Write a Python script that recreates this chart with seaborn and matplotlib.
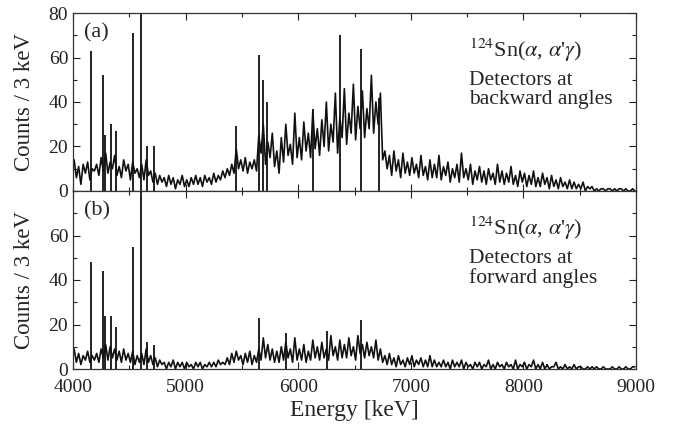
import numpy as np
import pandas as pd
import matplotlib
matplotlib.use("Agg")
import matplotlib.pyplot as plt
from matplotlib.ticker import MultipleLocator
import seaborn as sns

# continuum, counts / 3 keV read per 20 keV step, 4000-9000 keV
bin_width = 20
e_start = 4000

counts_back = [
    14, 6, 11, 3, 12, 8, 13, 5, 10, 9,
    12, 7, 15, 9, 17, 8, 13, 10, 16, 7,
    11, 6, 14, 9, 12, 5, 13, 8, 10, 6,
    12, 5, 14, 7, 9, 4, 8, 3, 7, 4,
    6, 2, 7, 3, 6, 1, 5, 3, 7, 2,
    5, 2, 6, 3, 7, 3, 6, 2, 7, 4,
    6, 3, 8, 4, 7, 5, 9, 6, 10, 7,
    12, 8, 19, 10, 14, 9, 15, 8, 13, 10,
    14, 9, 25, 17, 30, 12, 22, 15, 26, 11,
    18, 8, 24, 13, 30, 16, 21, 12, 35, 15,
    24, 14, 31, 18, 26, 15, 36, 19, 28, 16,
    32, 20, 40, 18, 30, 22, 44, 17, 33, 24,
    46, 21, 35, 26, 48, 23, 38, 28, 45, 24,
    37, 28, 52, 26, 40, 30, 44, 14, 18, 10,
    16, 7, 18, 9, 14, 6, 17, 8, 13, 7,
    15, 8, 12, 6, 16, 7, 11, 5, 14, 6,
    12, 6, 16, 5, 11, 7, 13, 4, 10, 6,
    12, 4, 17, 6, 10, 5, 12, 3, 9, 5,
    11, 4, 9, 3, 10, 5, 8, 3, 12, 4,
    9, 3, 8, 4, 11, 3, 7, 2, 9, 4,
    8, 2, 7, 3, 9, 2, 6, 2, 8, 3,
    6, 1, 7, 2, 5, 1, 6, 2, 4, 1,
    5, 1, 4, 1, 3, 1, 4, 0, 2, 1,
    2, 0, 1, 0, 1, 1, 0, 1, 1, 0,
    1, 0, 1, 1, 0, 1, 0, 0, 1, 0,
]

counts_fwd = [
    9, 3, 7, 2, 6, 4, 8, 3, 6, 4,
    7, 3, 9, 5, 11, 4, 10, 5, 9, 4,
    8, 3, 9, 4, 7, 3, 8, 2, 6, 3,
    7, 2, 9, 3, 6, 2, 5, 1, 4, 2,
    3, 0, 3, 1, 4, 0, 3, 1, 3, 0,
    3, 1, 2, 0, 3, 1, 3, 0, 2, 1,
    3, 1, 3, 1, 4, 2, 3, 2, 5, 2,
    7, 3, 8, 4, 6, 2, 7, 3, 8, 2,
    6, 3, 9, 4, 14, 5, 11, 4, 9, 3,
    8, 3, 10, 4, 12, 5, 9, 3, 14, 4,
    9, 4, 11, 3, 8, 4, 13, 5, 10, 4,
    12, 5, 9, 4, 15, 6, 10, 4, 13, 5,
    11, 5, 14, 6, 10, 4, 15, 7, 11, 5,
    12, 6, 10, 5, 13, 4, 9, 3, 6, 2,
    7, 2, 5, 1, 6, 2, 4, 1, 5, 2,
    6, 1, 4, 2, 5, 1, 4, 1, 6, 1,
    4, 1, 3, 1, 4, 1, 3, 0, 4, 1,
    3, 1, 4, 0, 3, 1, 2, 0, 3, 1,
    3, 0, 2, 1, 4, 0, 2, 0, 3, 1,
    2, 0, 3, 1, 2, 0, 4, 0, 2, 1,
    3, 0, 2, 1, 4, 0, 2, 0, 3, 0,
    2, 0, 1, 1, 3, 0, 1, 0, 2, 0,
    1, 0, 2, 0, 1, 1, 0, 0, 1, 0,
    1, 0, 1, 0, 0, 1, 0, 0, 0, 1,
    0, 0, 1, 0, 0, 1, 0, 0, 1, 1,
]

# narrow gamma lines (energy keV, counts / 3 keV)
peak_e_back = [4160, 4266, 4280, 4335, 4382, 4533, 4607, 4654, 4720,
               5445, 5654, 5684, 5720, 6130, 6371, 6555, 6717]
peak_h_back = [63, 52, 25, 30, 27, 71, 95, 20, 20,
               29, 61, 50, 40, 37, 70, 64, 42]

peak_e_fwd = [4160, 4266, 4280, 4335, 4382, 4533, 4607, 4654, 4720,
              5654, 5890, 6260, 6555]
peak_h_fwd = [48, 44, 24, 24, 19, 55, 95, 12, 11,
              23, 16, 17, 22]

sns.set_style("ticks")
plt.rcParams["font.family"] = ["Liberation Serif", "DejaVu Serif"]
plt.rcParams["mathtext.fontset"] = "stix"

fig = plt.figure(figsize=(6.78, 4.30), dpi=100)
left, right = 73 / 678, 636 / 678
ax_a = fig.add_axes([left, 1 - 191 / 430, right - left, 178 / 430])
ax_b = fig.add_axes([left, 1 - 369 / 430, right - left, 178 / 430], sharex=ax_a)

panels = [
    (ax_a, counts_back, peak_e_back, peak_h_back, "(a)", "backward angles"),
    (ax_b, counts_fwd, peak_e_fwd, peak_h_fwd, "(b)", "forward angles"),
]

for ax, counts, pk_e, pk_h, tag, det in panels:
    n = len(counts)
    centers = e_start + bin_width * (np.arange(n) + 0.5)
    df = pd.DataFrame({"energy": centers, "counts": counts})
    sns.lineplot(data=df, x="energy", y="counts", color="#111111",
                 linewidth=1.2, ax=ax)
    ax.vlines(pk_e, 0, pk_h, color="#111111", linewidth=1.3)

    ax.set_xlim(4000, 9000)
    ax.set_ylim(0, 80)
    ax.xaxis.set_major_locator(MultipleLocator(1000))
    ax.xaxis.set_minor_locator(MultipleLocator(500))
    ax.yaxis.set_major_locator(MultipleLocator(20))
    ax.yaxis.set_minor_locator(MultipleLocator(10))
    ax.tick_params(which="both", direction="in", top=True, right=True,
                   labelsize=14, width=0.8, colors="#222222")
    ax.tick_params(which="major", length=5)
    ax.tick_params(which="minor", length=3)
    ax.tick_params(axis="x", pad=7)
    for s in ax.spines.values():
        s.set_linewidth(0.9)
        s.set_color("#333333")
    ax.set_ylabel("Counts / 3 keV", fontsize=16.5)
    ax.set_xlabel("")

    ax.text(0.042, 0.89, tag, transform=ax.transAxes, fontsize=16,
            ha="center", va="center")
    ax.text(0.703, 0.79, r"$^{124}$Sn($\alpha$, $\alpha$'$\gamma$)",
            transform=ax.transAxes, fontsize=16, ha="left", va="center")
    ax.text(0.703, 0.565, "Detectors at\n" + det, transform=ax.transAxes,
            fontsize=15.5, ha="left", va="center", linespacing=1.0)

ax_a.tick_params(labelbottom=False)
ax_b.set_yticks([0, 20, 40, 60])
ax_b.set_xlabel("Energy [keV]", fontsize=17, labelpad=3)
ax_a.yaxis.set_label_coords(-0.068, 0.5)
ax_b.yaxis.set_label_coords(-0.068, 0.5)

fig.savefig("out.png", dpi=100)
